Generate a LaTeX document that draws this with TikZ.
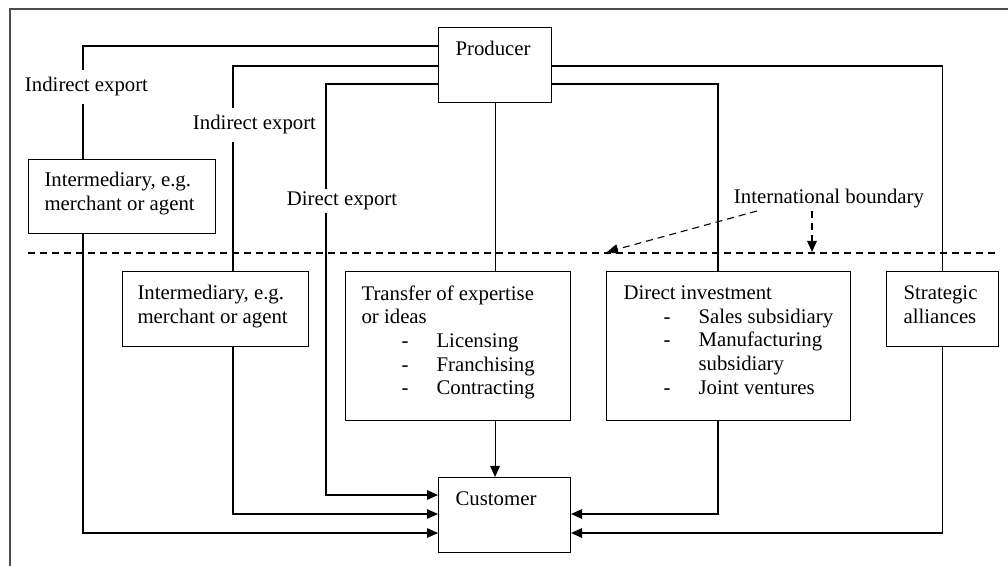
\documentclass[tikz,border=0pt]{standalone}
\usepackage{fontspec}
\setmainfont{Liberation Serif}
\usetikzlibrary{arrows.meta}
\newcommand{\itm}{\makebox[37.5pt][l]{\hspace*{20pt}-}}
\begin{document}
\begin{tikzpicture}[x = 0.5pt, y = -0.5pt, line width = 0.55pt,
  font = \fontsize{10.4}{11.85}\selectfont,
  box/.style 2 args = {draw, anchor = north west, inner sep = 0,
    minimum width = 0.5pt*#1, minimum height = 0.5pt*#2},
  txt/.style = {anchor = north west, inner sep = 0, align = left},
  lbl/.style = {inner sep = 3.5pt},
  tip/.style = {-{Triangle[length = 5.5pt, width = 4.8pt]}},
  bound/.style = {dash pattern = on 3.5pt off 2.5pt}]
\useasboundingbox (0, 0) rectangle (1008, 566);
\draw[black!70] (10, 566) -- (10, 9) -- (1008, 9);

% boxes
\node[box = {113}{75}]  (prod)     at (438, 27)  {};
\node[box = {187}{74}]  (inter-a)  at (28, 159)  {};
\node[box = {186}{75}]  (inter-b)  at (122, 271) {};
\node[box = {225}{149}] (transfer) at (345, 271) {};
\node[box = {244}{149}] (invest)   at (606, 271) {};
\node[box = {112}{75}]  (alliance) at (886, 271) {};
\node[box = {132}{75}]  (cust)     at (438, 477) {};

\node[txt] (prod-t)     at ([shift = {(17, 14)}]prod.north west) {Producer};
\node[txt] (inter-a-t)  at ([shift = {(16, 13)}]inter-a.north west) {Intermediary, e.g.\\ merchant or agent};
\node[txt] (inter-b-t)  at ([shift = {(15, 14)}]inter-b.north west) {Intermediary, e.g.\\ merchant or agent};
\node[txt] (transfer-t) at ([shift = {(16, 14)}]transfer.north west)
  {Transfer of expertise\\ or ideas\\ \itm Licensing\\ \itm Franchising\\ \itm Contracting};
\node[txt] (invest-t)   at ([shift = {(17, 14)}]invest.north west)
  {Direct investment\\ \itm Sales subsidiary\\ \itm Manufacturing\\ \hspace*{37.5pt}subsidiary\\ \itm Joint ventures};
\node[txt] (alliance-t) at ([shift = {(17, 14)}]alliance.north west) {Strategic\\ alliances};
\node[txt] (cust-t)     at ([shift = {(17, 14)}]cust.north west) {Customer};

% route labels
\node[lbl] (ie-a) at (86.5, 87)  {Indirect export};
\node[lbl] (ie-b) at (254.5, 125) {Indirect export};
\node[inner sep = 1pt] (de) at (342, 201) {Direct export};
\node[inner sep = 1pt] (ib) at (829, 199) {International boundary};
\coordinate (r1) at (83, 0);
\coordinate (r2) at (233, 0);
\coordinate (r3) at (326, 0);
\coordinate (r5) at (718, 0);
\coordinate (ib-a) at (607, 252);
\coordinate (ib-b) at (812, 252);

% international boundary
\draw[bound] (28, 253) -- (998, 253);
\draw[bound, tip] ([xshift = -36pt]ib.south) -- (ib-a);
\draw[bound, tip] (ib.south -| ib-b) -- (ib-b);

% left routes
\draw ([shift = {(0, 19)}]prod.north west) -| (r1 |- ie-a.north);
\draw (r1 |- ie-a.south) -- (r1 |- inter-a.north);
\draw[tip] (r1 |- inter-a.south) |- ([shift = {(0, 56)}]cust.north west);
\draw ([shift = {(0, 39)}]prod.north west) -| (r2 |- ie-b.north);
\draw (r2 |- ie-b.south) -- (r2 |- inter-b.north);
\draw[tip] (r2 |- inter-b.south) |- ([shift = {(0, 37)}]cust.north west);
\draw ([shift = {(0, 57)}]prod.north west) -| (r3 |- de.north);
\draw[tip] (r3 |- de.south) |- ([shift = {(0, 18)}]cust.north west);

% middle
\draw (prod.south) -- (prod.south |- transfer.north);
\draw[tip] (prod.south |- transfer.south) -- (prod.south |- cust.north);

% right routes
\draw ([shift = {(0, 39)}]prod.north east) -| (alliance.north);
\draw ([shift = {(0, 57)}]prod.north east) -| (r5 |- invest.north);
\draw[tip] (r5 |- invest.south) |- ([shift = {(0, 37)}]cust.north east);
\draw[tip] (alliance.south) |- ([shift = {(0, 56)}]cust.north east);
\end{tikzpicture}
\end{document}
